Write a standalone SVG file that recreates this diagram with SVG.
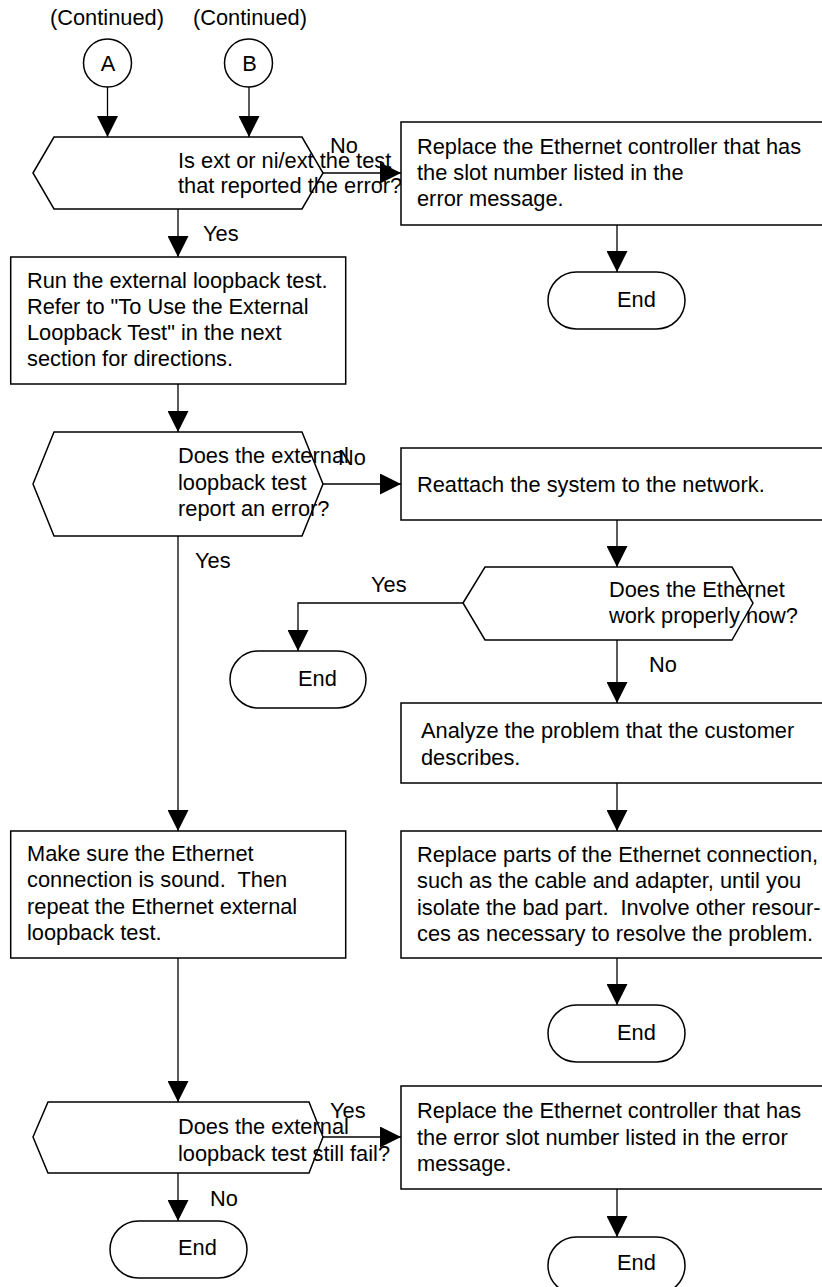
<svg xmlns="http://www.w3.org/2000/svg" width="822" height="1287" viewBox="0 0 822 1287">
<defs>
<marker id="ah" markerUnits="userSpaceOnUse" markerWidth="21" markerHeight="21" refX="21" refY="10.5" orient="auto" viewBox="0 0 21 21"><path d="M0,0 L21,10.5 L0,21 Z" fill="#000"/></marker>
</defs>
<style>
.s{fill:#fff;stroke:#000;stroke-width:1.5}
.c{fill:none;stroke:#000;stroke-width:1.3;marker-end:url(#ah)}
text{font-family:"Liberation Sans",Arial,sans-serif;font-size:21.8px;fill:#000;white-space:pre}
.m{text-anchor:middle}
</style>
<rect width="822" height="1287" fill="#fff"/>
<g id="connectors">
<path class="c" d="M107.5,87 V137"/>
<path class="c" d="M249,87 V137"/>
<path class="c" d="M323,173 H401"/>
<path class="c" d="M178,209 V257"/>
<path class="c" d="M617,225 V272"/>
<path class="c" d="M178,384 V432"/>
<path class="c" d="M323,484 H401"/>
<path class="c" d="M178,536 V831"/>
<path class="c" d="M617,520 V567"/>
<path class="c" d="M463,603 H298 V651"/>
<path class="c" d="M617,640 V703"/>
<path class="c" d="M617,783 V831"/>
<path class="c" d="M617,958 V1005"/>
<path class="c" d="M178,958 V1102"/>
<path class="c" d="M323,1137 H401"/>
<path class="c" d="M178,1173 V1221"/>
<path class="c" d="M617,1189 V1237"/>
</g>
<g id="cont-labels">
<text x="50" y="25">(Continued)</text>
<text x="193" y="25">(Continued)</text>
</g>
<g id="conA"><circle class="s" cx="107.5" cy="63" r="24"/><text class="m" x="108" y="71">A</text></g>
<g id="conB"><circle class="s" cx="248.5" cy="63" r="24"/><text class="m" x="249.5" y="71">B</text></g>
<g id="d1"><polygon class="s" points="33,173 54,137 302,137 323,173 302,209 54,209"/>
<text x="178" y="168">Is ext or ni/ext the test</text><text x="178" y="193">that reported the error?</text></g>
<g id="box1"><rect class="s" x="401" y="122" width="432" height="103"/>
<text x="417" y="154">Replace the Ethernet controller that has</text>
<text x="417" y="180">the slot number listed in the</text>
<text x="417" y="206">error message.</text></g>
<g id="end1"><rect class="s" x="548" y="272" width="137" height="57" rx="28.5"/><text x="617" y="307">End</text></g>
<g id="box2"><rect class="s" x="10.7" y="257" width="335" height="127"/>
<text x="27" y="288">Run the external loopback test.</text>
<text x="27" y="314">Refer to "To Use the External</text>
<text x="27" y="340">Loopback Test" in the next</text>
<text x="27" y="366">section for directions.</text></g>
<g id="d2"><polygon class="s" points="33,484 54,432 302,432 323,484 302,536 54,536"/>
<text x="178" y="463">Does the external</text><text x="178" y="490">loopback test</text><text x="178" y="516">report an error?</text></g>
<g id="reattach"><rect class="s" x="401" y="448" width="432" height="72"/>
<text x="417" y="492">Reattach the system to the network.</text></g>
<g id="d4"><polygon class="s" points="463,603 485,567 732,567 753,603 732,640 485,640"/>
<text x="609" y="597">Does the Ethernet</text><text x="609" y="623">work properly now?</text></g>
<g id="end2"><rect class="s" x="230" y="651" width="136" height="57" rx="28.5"/><text x="298" y="686">End</text></g>
<g id="analyze"><rect class="s" x="401" y="703" width="432" height="80"/>
<text x="421" y="738">Analyze the problem that the customer</text>
<text x="421" y="765">describes.</text></g>
<g id="makesure"><rect class="s" x="10.7" y="831" width="335" height="127"/>
<text x="27" y="861">Make sure the Ethernet</text>
<text x="27" y="887" xml:space="preserve">connection is sound.  Then</text>
<text x="27" y="914">repeat the Ethernet external</text>
<text x="27" y="940">loopback test.</text></g>
<g id="replaceparts"><rect class="s" x="401" y="831" width="432" height="127"/>
<text x="417" y="862">Replace parts of the Ethernet connection,</text>
<text x="417" y="888">such as the cable and adapter, until you</text>
<text x="417" y="915" xml:space="preserve">isolate the bad part.  Involve other resour-</text>
<text x="417" y="941">ces as necessary to resolve the problem.</text></g>
<g id="end3"><rect class="s" x="548" y="1005" width="137" height="57" rx="28.5"/><text x="617" y="1040">End</text></g>
<g id="d3"><polygon class="s" points="33,1137 48,1102 309,1102 323,1137 309,1173 48,1173"/>
<text x="178" y="1134">Does the external</text><text x="178" y="1161">loopback test still fail?</text></g>
<g id="box3"><rect class="s" x="401" y="1086" width="432" height="103"/>
<text x="417" y="1118">Replace the Ethernet controller that has</text>
<text x="417" y="1145">the error slot number listed in the error</text>
<text x="417" y="1171">message.</text></g>
<g id="end4"><rect class="s" x="110" y="1221" width="137" height="57" rx="28.5"/><text x="178" y="1255">End</text></g>
<g id="end5"><rect class="s" x="548" y="1237" width="137" height="57" rx="28.5"/><text x="617" y="1270">End</text></g>
<g id="edge-labels">
<text x="330" y="153">No</text>
<text x="203" y="241">Yes</text>
<text x="338" y="465">No</text>
<text x="195" y="568">Yes</text>
<text x="371" y="592">Yes</text>
<text x="649" y="672">No</text>
<text x="330" y="1118">Yes</text>
<text x="210" y="1206">No</text>
</g>
</svg>
